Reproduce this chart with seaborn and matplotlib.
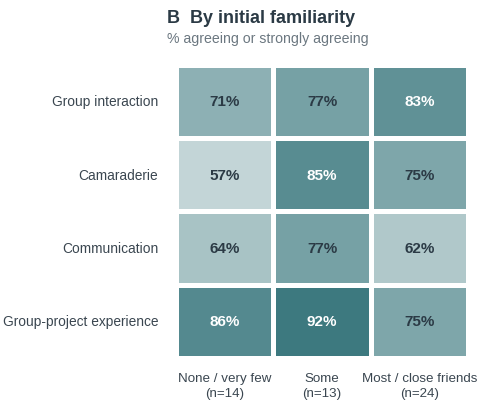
import matplotlib
matplotlib.use("Agg")
import matplotlib.pyplot as plt
import seaborn as sns
import numpy as np
import pandas as pd
from matplotlib.colors import LinearSegmentedColormap

rows = ["Group interaction", "Camaraderie", "Communication", "Group-project experience"]
cols = ["None / very few\n(n=14)", "Some\n(n=13)", "Most / close friends\n(n=24)"]
none_few = [71, 57, 64, 86]
some = [77, 85, 77, 92]
most_close = [83, 75, 62, 75]

df = pd.DataFrame({cols[0]: none_few, cols[1]: some, cols[2]: most_close}, index=rows)

sns.set_theme(style="white")
plt.rcParams['font.family'] = ['Liberation Sans', 'DejaVu Sans']

cmap = LinearSegmentedColormap.from_list("teal", ["#dde7e8", "#1f656c"])

fig = plt.figure(figsize=(4.8, 4.14), dpi=100)
ax = fig.add_axes([0.367, 0.133, 0.608, 0.708])
sns.heatmap(df, ax=ax, cmap=cmap, vmin=50, vmax=100, cbar=False,
            linewidths=3.5, linecolor="white", annot=False)

for i, r in enumerate(rows):
    for j, c in enumerate(cols):
        v = df.loc[r, c]
        ax.text(j + 0.5, i + 0.5, f"{v}%", ha="center", va="center",
                fontsize=11, fontweight="bold",
                color="white" if v >= 80 else "#2b3a45")

ax.tick_params(axis="both", length=0, colors="#3a4650")
ax.tick_params(axis="x", pad=10, labelsize=9.6)
ax.tick_params(axis="y", pad=13, labelsize=9.9)
ax.set_xticklabels(cols, rotation=0, linespacing=1.35)
ax.set_yticklabels(rows, rotation=0)
ax.set_xlabel("")
ax.set_ylabel("")

fig.text(0.348, 0.955, "B  By initial familiarity", fontsize=13, fontweight="bold",
         color="#2b3a45", ha="left", va="center")
fig.text(0.348, 0.905, "% agreeing or strongly agreeing", fontsize=10.2,
         color="#6b7780", ha="left", va="center")

fig.savefig("out.png", dpi=100)
